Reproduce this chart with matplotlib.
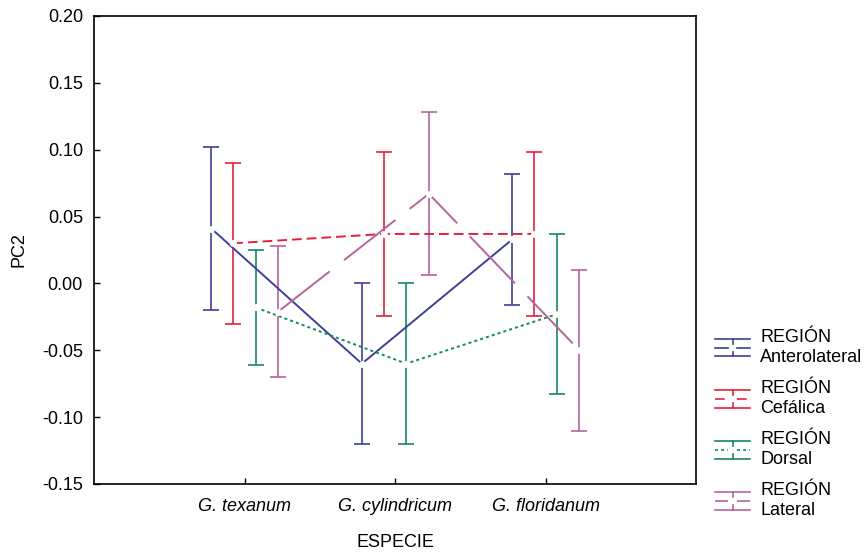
import matplotlib
matplotlib.use("Agg")
import matplotlib.pyplot as plt
from matplotlib.lines import Line2D
from matplotlib.legend_handler import HandlerBase
import numpy as np

plt.rcParams['font.family'] = ['Liberation Sans', 'DejaVu Sans']
plt.rcParams['font.size'] = 13
plt.rcParams['lines.scale_dashes'] = False

species = ["G. texanum", "G. cylindricum", "G. floridanum"]
regions = ["Anterolateral", "Cefálica", "Dorsal", "Lateral"]

# means and half-width of the error bars, per region
mean_anterolateral = [0.041, -0.060, 0.033]
err_anterolateral = [0.061, 0.060, 0.049]
mean_cefalica = [0.030, 0.037, 0.037]
err_cefalica = [0.060, 0.061, 0.061]
mean_dorsal = [-0.018, -0.060, -0.023]
err_dorsal = [0.043, 0.060, 0.060]
mean_lateral = [-0.021, 0.067, -0.050]
err_lateral = [0.049, 0.061, 0.060]

means = [mean_anterolateral, mean_cefalica, mean_dorsal, mean_lateral]
errs = [err_anterolateral, err_cefalica, err_dorsal, err_lateral]
colors = ["#3f3f98", "#e3213d", "#188a5c", "#b5649c"]
styles = ["-", (0, (7, 3.6)), (0, (2.2, 2.2)), (0, (47, 13))]
offsets = [-0.22, -0.075, 0.075, 0.225]


class ErrHandler(HandlerBase):
    """legend key drawn as caps + vertical bar + series line"""
    def create_artists(self, legend, orig_handle, xdescent, ydescent,
                       width, height, fontsize, trans):
        c = orig_handle.get_color()
        ls = orig_handle.get_linestyle()
        mid_ls = '-' if ls in ('-', 'solid') else orig_handle._unscaled_dash_pattern
        x0, y0 = -xdescent, -ydescent
        x1, y1 = x0 + width, y0 + height
        xm, ym = (x0 + x1) / 2, (y0 + y1) / 2
        g = 3
        arts = [
            Line2D([x0, x1], [y1, y1], color=c, lw=1.2),
            Line2D([x0, x1], [y0, y0], color=c, lw=1.2),
            Line2D([xm, xm], [y0, ym - g], color=c, lw=1.2),
            Line2D([xm, xm], [ym + g, y1], color=c, lw=1.2),
            Line2D([x0, xm - g], [ym, ym], color=c, lw=1.2, linestyle=mid_ls),
            Line2D([xm + g, x1], [ym, ym], color=c, lw=1.2, linestyle=mid_ls),
        ]
        for a in arts:
            a.set_transform(trans)
        return arts


fig = plt.figure(figsize=(8.64, 5.52), dpi=100)
ax = fig.add_axes([94 / 864, 1 - 484 / 552, 602 / 864, 468 / 552])

x = np.arange(1, len(species) + 1)
handles = []
for m, e, c, ls, off in zip(means, errs, colors, styles, offsets):
    xs = x + off
    ax.errorbar(xs, m, yerr=e, fmt='none', ecolor=c, elinewidth=1.2,
                capsize=6, capthick=1.2, zorder=2)
    ln, = ax.plot(xs, m, color=c, lw=1.4, linestyle=ls, zorder=3)
    handles.append(ln)
for m, off in zip(means, offsets):
    ax.plot(x + off, m, linestyle='none', marker='o', ms=5,
            mfc='white', mec='none', zorder=4)

ax.set_xlim(0, 4)
ax.set_ylim(-0.15, 0.20)
ax.set_xticks(x)
ax.set_xticklabels(species, style='italic')
ax.set_yticks(np.arange(-0.15, 0.201, 0.05))
ax.set_yticklabels(["%.2f" % v for v in np.arange(-0.15, 0.201, 0.05)])
ax.tick_params(direction='in', length=4, width=1, pad=8)
ax.tick_params(axis='x', pad=10)
for s in ax.spines.values():
    s.set_linewidth(1.2)
ax.set_xlabel("ESPECIE", labelpad=14)
ax.set_ylabel("PC2", labelpad=10)

labels = ["REGIÓN\n" + r for r in regions]
fig.legend(handles, labels, handler_map={Line2D: ErrHandler()},
           loc='center left', bbox_to_anchor=(715 / 864, 1 - 424 / 552),
           frameon=False, borderpad=0, borderaxespad=0,
           handlelength=1.95, handleheight=1.1, handletextpad=0.55,
           labelspacing=0.8)

fig.savefig("out.png", dpi=100)
